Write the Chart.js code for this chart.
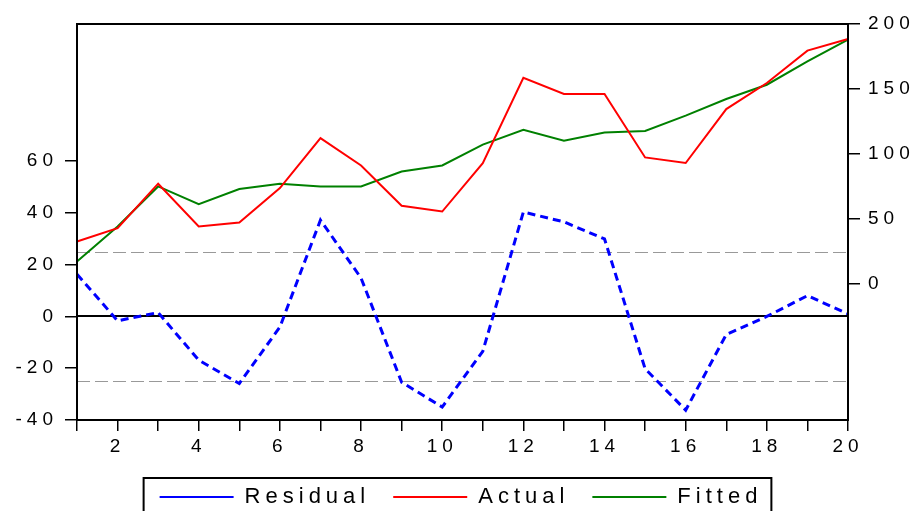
<!DOCTYPE html>
<html>
<head>
<meta charset="utf-8">
<script src="https://cdn.jsdelivr.net/npm/chart.js@4.4.1/dist/chart.umd.min.js"></script>
<style>
    body { margin: 0; background: #ffffff; }
    #wrap { width: 922px; height: 511px; position: relative; }
</style>
</head>
<body>
<div id="wrap"><canvas id="chart"></canvas></div>
<script>
// observations 1..20
var periods = [1, 2, 3, 4, 5, 6, 7, 8, 9, 10, 11, 12, 13, 14, 15, 16, 17, 18, 19, 20];

// left axis (residual)
var residual = [16.3, -1.7, 1.5, -16.9, -25.9, -4.1, 37.2, 14.8, -25.4, -35.0, -13.5, 40.3, 36.5, 29.9, -20.2, -36.2, -7.0, 0.0, 8.0, 1.0];

// right axis (actual / fitted)
var actual = [32.8, 43.0, 77.2, 44.3, 47.4, 73.8, 112.3, 91.2, 60.2, 55.8, 93.0, 158.7, 146.2, 146.2, 97.4, 93.1, 134.6, 154.6, 179.5, 188.5];
var fitted = [17.4, 44.3, 75.1, 61.5, 73.1, 77.2, 75.1, 75.1, 86.6, 91.2, 107.2, 118.7, 110.2, 116.6, 117.7, 129.5, 142.3, 153.3, 171.2, 187.9];

var leftTicks = [-40, -20, 0, 20, 40, 60];
var rightTicks = [0, 50, 100, 150, 200];
var bandLines = [-25, 25];

var FONT = '"Liberation Sans", Arial, sans-serif';

// EViews style wide letter spacing on all text
var spacingPlugin = {
    id: 'spacing',
    beforeUpdate: function(chart) { chart.ctx.letterSpacing = '5px'; },
    beforeLayout: function(chart) { chart.ctx.letterSpacing = '5px'; },
    beforeDraw: function(chart) { chart.ctx.letterSpacing = '5px'; }
};

// zero line, +/- band lines, frame and legend box
var framePlugin = {
    id: 'frame',
    beforeDatasetsDraw: function(chart) {
        var ctx = chart.ctx, area = chart.chartArea, y = chart.scales.y;
        ctx.save();
        ctx.strokeStyle = '#999999';
        ctx.lineWidth = 1;
        ctx.setLineDash([13, 5]);
        bandLines.forEach(function(v) {
            var py = Math.round(y.getPixelForValue(v)) + 0.5;
            ctx.beginPath();
            ctx.moveTo(area.left, py);
            ctx.lineTo(area.right, py);
            ctx.stroke();
        });
        ctx.setLineDash([]);
        ctx.strokeStyle = '#000000';
        ctx.lineWidth = 2;
        var zy = Math.round(y.getPixelForValue(0));
        ctx.beginPath();
        ctx.moveTo(area.left, zy);
        ctx.lineTo(area.right, zy);
        ctx.stroke();
        ctx.restore();
    },
    afterDraw: function(chart) {
        var ctx = chart.ctx, area = chart.chartArea;
        ctx.save();
        ctx.strokeStyle = '#000000';
        ctx.lineWidth = 2;
        ctx.strokeRect(area.left, area.top, area.right - area.left, area.bottom - area.top);
        var boxes = chart.legend.legendHitBoxes;
        if (boxes && boxes.length) {
            var first = boxes[0], last = boxes[boxes.length - 1];
            var l = first.left - 16;
            var r = last.left + last.width + 9;
            ctx.strokeRect(l, 478, r - l, 45);
        }
        ctx.restore();
    }
};

var ctx = document.getElementById('chart');
var chart = new Chart(ctx, {
    type: 'line',
    data: {
        labels: periods,
        datasets: [{
            label: 'Residual',
            data: residual,
            yAxisID: 'y',
            borderColor: '#0000ff',
            backgroundColor: '#0000ff',
            borderWidth: 3,
            borderDash: [8, 5],
            pointRadius: 0,
            fill: false,
            tension: 0
        }, {
            label: 'Actual',
            data: actual,
            yAxisID: 'y1',
            borderColor: '#ff0000',
            backgroundColor: '#ff0000',
            borderWidth: 2,
            pointRadius: 0,
            fill: false,
            tension: 0
        }, {
            label: 'Fitted',
            data: fitted,
            yAxisID: 'y1',
            borderColor: '#008000',
            backgroundColor: '#008000',
            borderWidth: 2,
            pointRadius: 0,
            fill: false,
            tension: 0
        }]
    },
    options: {
        responsive: true,
        maintainAspectRatio: false,
        animation: false,
        layout: { padding: { top: 24, left: 0, right: 0, bottom: -7 } },
        plugins: {
            tooltip: { enabled: false },
            legend: {
                position: 'bottom',
                labels: {
                    color: '#000000',
                    font: { family: FONT, size: 22 },
                    boxWidth: 74,
                    boxHeight: 2,
                    padding: 23,
                    generateLabels: function(chart) {
                        var items = Chart.defaults.plugins.legend.labels.generateLabels(chart);
                        items.forEach(function(it) {
                            it.fillStyle = it.strokeStyle;
                            it.lineWidth = 0;
                            it.lineDash = [];
                        });
                        return items;
                    }
                }
            }
        },
        scales: {
            x: {
                type: 'category',
                offset: false,
                afterFit: function(scale) { scale.height = 43; },
                grid: { drawOnChartArea: false, drawTicks: true, tickLength: 11, color: '#000000', lineWidth: 1.5 },
                border: { display: true, color: '#000000', width: 2 },
                ticks: {
                    autoSkip: false,
                    maxRotation: 0,
                    padding: 4,
                    color: '#000000',
                    font: { family: FONT, size: 19 },
                    callback: function(val, idx) {
                        var p = periods[idx];
                        return p % 2 === 0 ? String(p) : '';
                    }
                }
            },
            y: {
                position: 'left',
                min: -40,
                max: 112.9,
                afterFit: function(scale) { scale.width = 77; },
                afterBuildTicks: function(scale) {
                    scale.ticks = leftTicks.map(function(v) { return { value: v }; });
                },
                grid: { drawOnChartArea: false, drawTicks: true, tickLength: 12, color: '#000000', lineWidth: 1.5 },
                border: { display: true, color: '#000000', width: 2 },
                ticks: { padding: 7, color: '#000000', font: { family: FONT, size: 19 } }
            },
            y1: {
                position: 'right',
                min: -104.5,
                max: 200,
                afterFit: function(scale) { scale.width = 74; },
                afterBuildTicks: function(scale) {
                    scale.ticks = rightTicks.map(function(v) { return { value: v }; });
                },
                grid: { drawOnChartArea: false, drawTicks: true, tickLength: 12, color: '#000000', lineWidth: 1.5 },
                border: { display: true, color: '#000000', width: 2 },
                ticks: { padding: 8, color: '#000000', font: { family: FONT, size: 19 } }
            }
        }
    },
    plugins: [spacingPlugin, framePlugin]
});
</script>
</body>
</html>
